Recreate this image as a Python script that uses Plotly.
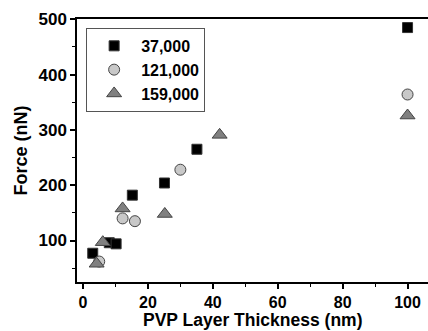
import plotly.graph_objects as go

# Data
x_37k = [3.0, 8.1, 10.2, 15.2, 25.1, 35.1, 100.0]
y_37k = [77, 96, 94, 182, 204, 265, 485]

x_121k = [5.0, 12.2, 16.0, 30.0, 100.0]
y_121k = [62, 140, 135, 228, 364]

x_159k = [4.2, 6.1, 12.2, 25.2, 42.1, 100.0]
y_159k = [58, 97, 158, 148, 291, 326]

names = ["37,000", "121,000", "159,000"]
x_title = "PVP Layer Thickness (nm)"
y_title = "Force (nN)"

FONT = "Liberation Sans, Arial, sans-serif"

fig = go.Figure()
fig.add_trace(go.Scatter(x=x_37k, y=y_37k, mode="markers", name=names[0],
                         marker=dict(symbol="square", size=10, color="black",
                                     line=dict(color="#333", width=1))))
fig.add_trace(go.Scatter(x=x_121k, y=y_121k, mode="markers", name=names[1],
                         marker=dict(symbol="circle", size=11, color="#c8c8c8",
                                     line=dict(color="#444", width=1))))
fig.add_trace(go.Scatter(x=x_159k, y=y_159k, mode="markers", name=names[2],
                         marker=dict(symbol="triangle-up", size=13, color="#808080",
                                     line=dict(color="#444", width=1))))

fig.update_layout(
    width=428, height=331,
    margin=dict(l=77, r=0, t=19, b=49),
    plot_bgcolor="white", paper_bgcolor="white",
    font=dict(family=FONT, size=16, color="black", weight="bold"),
    showlegend=True,
    legend=dict(x=0.026, y=0.966, xanchor="left", yanchor="top",
                bordercolor="#555", borderwidth=1, bgcolor="white",
                font=dict(family=FONT, size=16, color="black", weight="bold"),
                itemwidth=44, tracegroupgap=0),
    annotations=[dict(text=x_title, xref="paper", yref="paper", x=0.5, y=0,
                      xanchor="center", yanchor="top", yshift=-27, showarrow=False,
                      borderpad=0,
                      font=dict(family=FONT, size=17.5, weight="bold", color="black"))],
)
fig.update_xaxes(
    range=[-1.85, 106.3], showgrid=False, zeroline=False,
    showline=True, linecolor="black", linewidth=1.5, mirror=True,
    ticks="outside", ticklen=5, tickwidth=1.5, tickcolor="black",
    tickvals=[0, 20, 40, 60, 80, 100],
    minor=dict(tickvals=[10, 30, 50, 70, 90], ticks="outside", ticklen=3, tickwidth=1, tickcolor="black"),
    tickfont=dict(family=FONT, size=16, weight="bold"),
)
fig.update_yaxes(
    range=[25, 500.5], showgrid=False, zeroline=False,
    showline=True, linecolor="black", linewidth=1.5, mirror=False,
    ticks="outside", ticklen=5, tickwidth=1.5, tickcolor="black",
    tickvals=[100, 200, 300, 400, 500],
    minor=dict(tickvals=[50, 150, 250, 350, 450], ticks="outside", ticklen=3, tickwidth=1, tickcolor="black"),
    tickfont=dict(family=FONT, size=17, weight="bold"),
    title=dict(text=y_title, font=dict(family=FONT, size=18, weight="bold"), standoff=6),
)

fig.write_html("out.html")
